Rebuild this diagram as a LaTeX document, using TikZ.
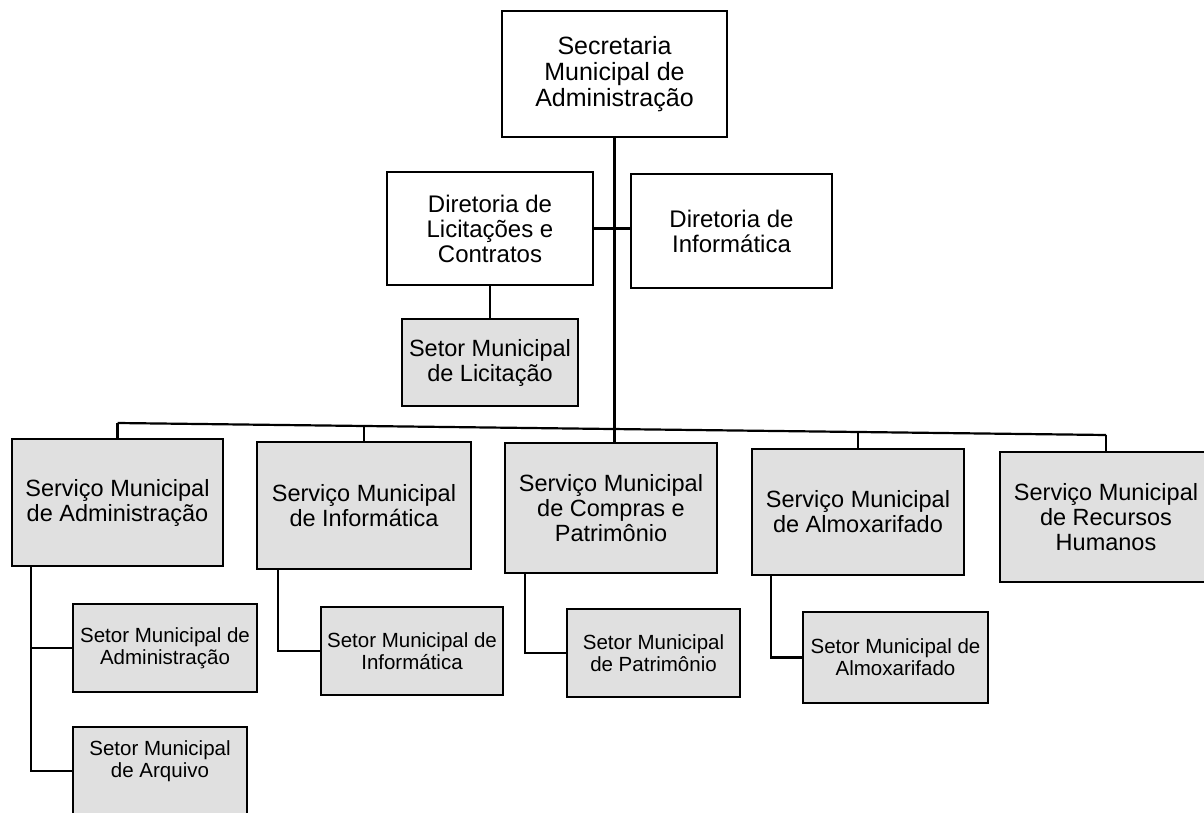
\documentclass[tikz,border=0pt]{standalone}
\usepackage{fontspec}
\setmainfont{Liberation Sans}
\newcommand{\ftop}{\fontsize{25}{26}\selectfont}
\newcommand{\fdir}{\fontsize{24}{25}\selectfont}
\newcommand{\fserv}{\fontsize{23.5}{25}\selectfont}
\newcommand{\fsmall}{\fontsize{20.5}{22}\selectfont}
\begin{document}
\begin{tikzpicture}[x=1pt,y=-1pt,
  box/.style={draw=black, line width=1.8pt, rectangle, inner sep=0pt, align=center},
  wbox/.style={box, fill=white},
  gbox/.style={box, fill=black!12},
  conn/.style={draw=black, line width=2.2pt},
  servbox/.style={gbox, font=\fserv, minimum width=212, minimum height=128},
  setbox/.style={gbox, font=\fsmall, minimum height=88}]
\useasboundingbox (0,0) rectangle (1204,813);

% top levels
\node[wbox, font=\ftop, minimum width=225, minimum height=126] (top) at (614.5,74) {Secretaria\\Municipal de\\Administração};
\node[wbox, font=\fdir, minimum width=206, minimum height=113] (dirlic) at (490,228.5) {Diretoria de\\Licitações e\\Contratos};
\node[wbox, font=\fdir, minimum width=201, minimum height=114] (dirinf) at (731.5,231) {Diretoria de\\Informática};
\node[gbox, font=\fserv, minimum width=176, minimum height=87] (setlic) at (490,362.5) {Setor Municipal\\de Licitação};

% services
\node[servbox, minimum width=211, minimum height=127] (sadm) at (117.5,502.5) {Serviço Municipal\\de Administração};
\node[servbox, minimum width=214, minimum height=127] (sinf) at (364,505.5) {Serviço Municipal\\de Informática};
\node[servbox, minimum height=130] (scomp) at (611,508) {Serviço Municipal\\de Compras e\\Patrimônio};
\node[servbox, minimum height=126] (salm) at (858,512) {Serviço Municipal\\de Almoxarifado};
\node[servbox, minimum height=130] (srh) at (1106,517) {Serviço Municipal\\de Recursos\\Humanos};

% sectors
\node[setbox, minimum width=184] (ssadm) at (165,648) {Setor Municipal de\\Administração};
\node[setbox, minimum width=174, label={[font=\fsmall, align=center, yshift=10pt]center:{Setor Municipal\\de Arquivo}}] (ssarq) at (160,771) {};
\node[setbox, minimum width=182] (ssinf) at (412,651) {Setor Municipal de\\Informática};
\node[setbox, minimum width=173] (sspat) at (653.5,653) {Setor Municipal\\de Patrimônio};
\node[setbox, minimum width=185, minimum height=91] (ssalm) at (895.5,657.5) {Setor Municipal de\\Almoxarifado};

% bus coordinates
\coordinate (b1) at (117.5,423);
\coordinate (b2) at (364,426);
\coordinate (b3) at (614.5,429);
\coordinate (b4) at (858,432);
\coordinate (b5) at (1106,435);

% connectors
\draw[conn] (top.south) -- (b3);
\draw[conn] (dirlic.east) -- (dirlic.east -| dirinf.west);
\draw[conn] (dirlic.south) -- (setlic.north);
\draw[conn] (b1) -- (b5);
\draw[conn] (b1) -- (b1 |- sadm.north);
\draw[conn] (b2) -- (b2 |- sinf.north);
\draw[conn] (b3) -- (b3 |- scomp.north);
\draw[conn] (b4) -- (b4 |- salm.north);
\draw[conn] (b5) -- (b5 |- srh.north);

\coordinate (ka) at ([xshift=20pt]sadm.south west);
\coordinate (ki) at ([xshift=22pt]sinf.south west);
\coordinate (kc) at ([xshift=21pt]scomp.south west);
\coordinate (kl) at ([xshift=20pt]salm.south west);
\draw[conn] (ka) |- (ssadm.west);
\draw[conn] (ka) |- (ssarq.west);
\draw[conn] (ki) |- (ssinf.west);
\draw[conn] (kc) |- (sspat.west);
\draw[conn] (kl) |- (ssalm.west);
\end{tikzpicture}
\end{document}
